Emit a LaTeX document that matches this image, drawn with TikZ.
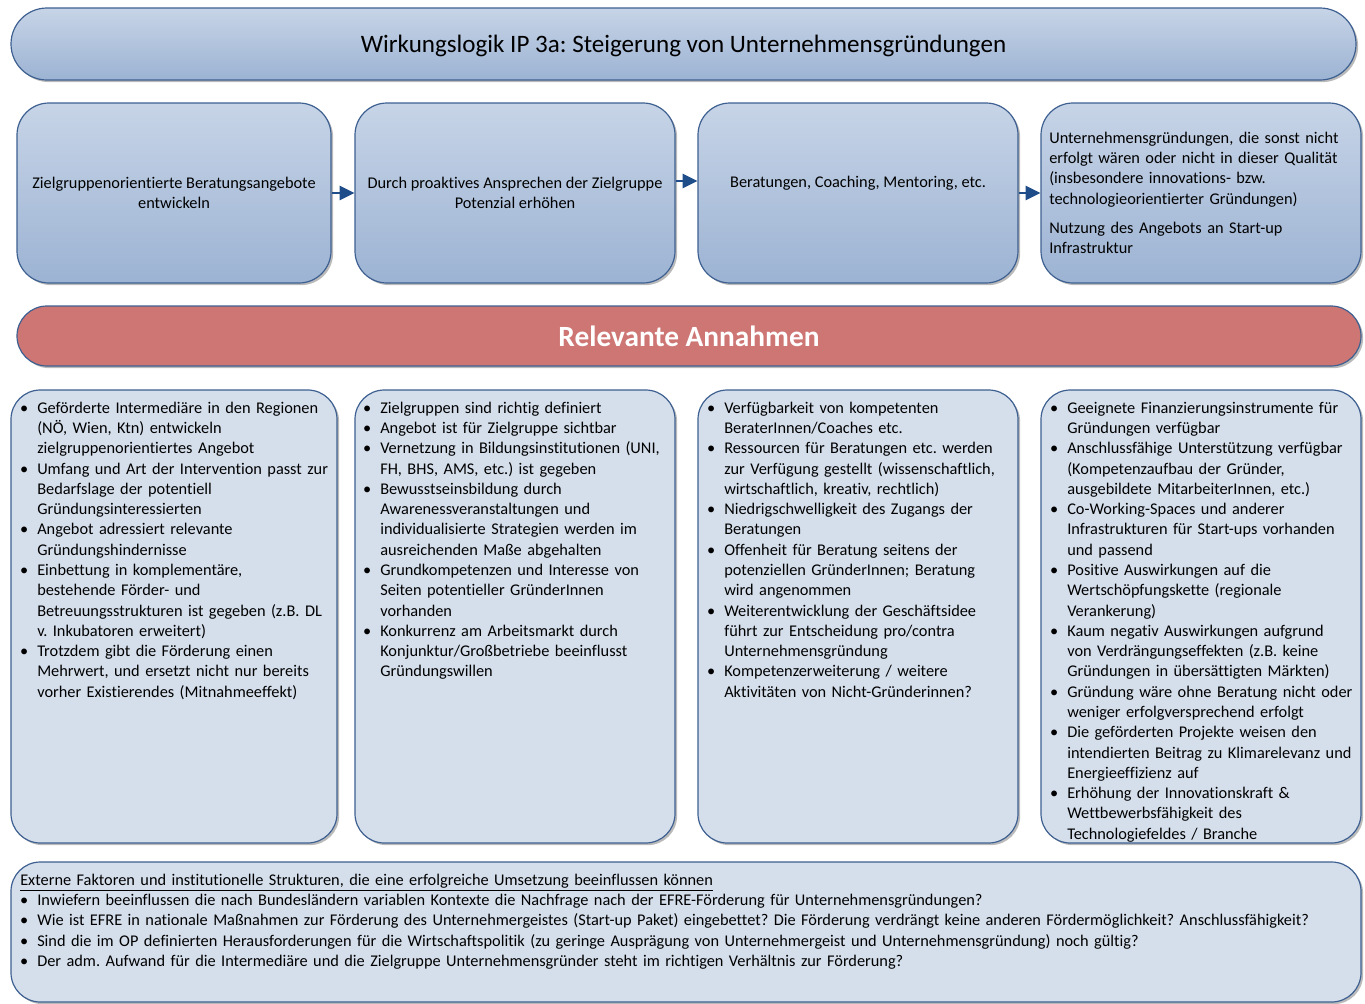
\documentclass[tikz,border=0pt]{standalone}
\usepackage{fontspec}
\setmainfont{Carlito}[Ligatures=NoCommon]
\usetikzlibrary{shadows,arrows.meta}
\frenchspacing
\definecolor{bdr}{RGB}{62,96,145}
\definecolor{gtop}{RGB}{199,212,231}
\definecolor{gbot}{RGB}{156,179,211}
\definecolor{afill}{RGB}{213,223,236}
\definecolor{redb}{RGB}{205,118,116}
\definecolor{arrc}{RGB}{31,77,137}
\newcommand\bodyfont{\fontsize{12.25pt}{15.21pt}\selectfont\frenchspacing}
\newcommand\fstrut{\rule{0pt}{8.5pt}}
\newcommand\bfirst{\noindent\llap{\makebox[19.5pt]{\textbullet}}}
\newcommand\bu{\par\noindent\llap{\makebox[19.5pt]{\textbullet}}}
\newcommand\bb{\par\noindent\hspace*{12.75pt}\llap{\makebox[19.5pt]{\textbullet}}}
\tikzset{
 shd/.style={drop shadow={shadow xshift=1.6pt,shadow yshift=-1.6pt,fill=black!60,opacity=0.45}},
 gbox/.style={draw=bdr, line width=0.9pt, rounded corners=24pt, top color=gtop, bottom color=gbot, shd, inner sep=0pt},
 abox/.style={draw=bdr, line width=0.9pt, rounded corners=22pt, fill=afill, shd, inner sep=0pt},
 rbox/.style={draw=bdr, line width=0.9pt, rounded corners=22.5pt, fill=redb, shd, inner sep=0pt},
 txt/.style={inner sep=0pt, font=\bodyfont},
 ltxt/.style={inner sep=0pt, font=\bodyfont, anchor=north west, text width=#1},
 arr/.style={draw=arrc, line width=1.5pt, -{Triangle[length=11pt,width=10.5pt]}},
}
\begin{document}
\begin{tikzpicture}[x=0.75pt,y=-0.75pt]
\useasboundingbox (0,0) rectangle (1365,1004);
% title
\node[gbox, rounded corners=27pt, minimum width=1008.75pt, minimum height=54pt] (title) at (683.5,44) {};
\node[inner sep=0pt, font=\fontsize{18.8pt}{22pt}\selectfont] (titletxt) at ([yshift=-1.2pt]title.center) {Wirkungslogik IP 3a: Steigerung von Unternehmensgründungen};
% top boxes
\node[gbox, minimum width=235.5pt, minimum height=135pt] (b1) at (174,193) {};
\node[gbox, minimum width=240pt, minimum height=135pt] (b2) at (515,193) {};
\node[gbox, minimum width=240pt, minimum height=135pt] (b3) at (858,193) {};
\node[gbox, minimum width=240pt, minimum height=135pt] (b4) at (1201,193) {};
\node[txt, align=center] (t1) at (b1.center) {Zielgruppenorientierte Beratungsangebote\\entwickeln};
\node[txt, align=center] (t2) at (b2.center) {Durch proaktives Ansprechen der Zielgruppe\\Potenzial erhöhen};
\node[txt] (t3) at ([yshift=7.5pt]b3.center) {Beratungen, Coaching, Mentoring, etc.};
\node[ltxt=235pt] (t4) at (1049,131.7) {\raggedright\fstrut Unternehmensgründungen, die sonst nicht\\erfolgt wären oder nicht in dieser Qualität\\(insbesondere innovations- bzw.\\technologieorientierter Gründungen)\\[6.5pt]Nutzung des Angebots an Start-up\\Infrastruktur};
\draw[arr] (b1.east) -- (b2.west);
\draw[arr] ([yshift=9pt]b2.east) -- ([yshift=9pt]b3.west);
\draw[arr] (b3.east) -- (b4.west);
% red bar
\node[rbox, minimum width=1008pt, minimum height=45pt] (red) at (689,336) {};
\node[inner sep=0pt, text=white, font=\bfseries\fontsize{22pt}{26pt}\selectfont] (redtxt) at (red.center) {Relevante Annahmen};
% assumption boxes
\node[abox, minimum width=244.5pt, minimum height=339.75pt] (a1) at (174,616.5) {};
\node[abox, minimum width=240pt, minimum height=339.75pt] (a2) at (515,616.5) {};
\node[abox, minimum width=240pt, minimum height=339.75pt] (a3) at (858,616.5) {};
\node[abox, minimum width=240pt, minimum height=339.75pt] (a4) at (1201,616.5) {};
\node[ltxt=245pt] (l1) at (37,401.7) {\raggedright\bfirst\fstrut Geförderte Intermediäre in den Regionen\\(NÖ, Wien, Ktn) entwickeln\\zielgruppenorientiertes Angebot
\bu Umfang und Art der Intervention passt zur\\Bedarfslage der potentiell\\Gründungsinteressierten
\bu Angebot adressiert relevante\\Gründungshindernisse
\bu Einbettung in komplementäre,\\bestehende Förder- und\\Betreuungsstrukturen ist gegeben (z.B. DL\\v. Inkubatoren erweitert)
\bu Trotzdem gibt die Förderung einen\\Mehrwert, und ersetzt nicht nur bereits\\vorher Existierendes (Mitnahmeeffekt)\par};
\node[ltxt=245pt] (l2) at (380,401.7) {\raggedright\bfirst\fstrut Zielgruppen sind richtig definiert
\bu Angebot ist für Zielgruppe sichtbar
\bu Vernetzung in Bildungsinstitutionen (UNI,\\FH, BHS, AMS, etc.) ist gegeben
\bu Bewusstseinsbildung durch\\Awarenessveranstaltungen und\\individualisierte Strategien werden im\\ausreichenden Maße abgehalten
\bu Grundkompetenzen und Interesse von\\Seiten potentieller GründerInnen\\vorhanden
\bu Konkurrenz am Arbeitsmarkt durch\\Konjunktur/Großbetriebe beeinflusst\\Gründungswillen\par};
\node[ltxt=245pt] (l3) at (724,401.7) {\raggedright\bfirst\fstrut Verfügbarkeit von kompetenten\\BeraterInnen/Coaches etc.
\bu Ressourcen für Beratungen etc. werden\\zur Verfügung gestellt (wissenschaftlich,\\wirtschaftlich, kreativ, rechtlich)
\bu Niedrigschwelligkeit des Zugangs der\\Beratungen
\bu Offenheit für Beratung seitens der\\potenziellen GründerInnen; Beratung\\wird angenommen
\bu Weiterentwicklung der Geschäftsidee\\führt zur Entscheidung pro/contra\\Unternehmensgründung
\bu Kompetenzerweiterung / weitere\\Aktivitäten von Nicht-Gründerinnen?\par};
\node[ltxt=245pt] (l4) at (1067,401.7) {\raggedright\bfirst\fstrut Geeignete Finanzierungsinstrumente für\\Gründungen verfügbar
\bu Anschlussfähige Unterstützung verfügbar\\(Kompetenzaufbau der Gründer,\\ausgebildete MitarbeiterInnen, etc.)
\bu Co-Working-Spaces und anderer\\Infrastrukturen für Start-ups vorhanden\\und passend
\bu Positive Auswirkungen auf die\\Wertschöpfungskette (regionale\\Verankerung)
\bu Kaum negativ Auswirkungen aufgrund\\von Verdrängungseffekten (z.B. keine\\Gründungen in übersättigten Märkten)
\bu Gründung wäre ohne Beratung nicht oder\\weniger erfolgversprechend erfolgt
\bu Die geförderten Projekte weisen den\\intendierten Beitrag zu Klimarelevanz und\\Energieeffizienz auf
\bu Erhöhung der Innovationskraft \&\\Wettbewerbsfähigkeit des\\Technologiefeldes / Branche\par};
% bottom box
\node[abox, minimum width=1012.5pt, minimum height=105pt] (ext) at (686,932) {};
\node[ltxt=1010pt] (exttxt) at (20,873.7) {\raggedright
\noindent\fstrut\underline{Externe Faktoren und institutionelle Strukturen, die eine erfolgreiche Umsetzung beeinflussen können}
\bb Inwiefern beeinflussen die nach Bundesländern variablen Kontexte die Nachfrage nach der EFRE-Förderung für Unternehmensgründungen?
\bb Wie ist EFRE in nationale Maßnahmen zur Förderung des Unternehmergeistes (Start-up Paket) eingebettet? Die Förderung verdrängt keine anderen Fördermöglichkeit? Anschlussfähigkeit?
\bb Sind die im OP definierten Herausforderungen für die Wirtschaftspolitik (zu geringe Ausprägung von Unternehmergeist und Unternehmensgründung) noch gültig?
\bb Der adm. Aufwand für die Intermediäre und die Zielgruppe Unternehmensgründer steht im richtigen Verhältnis zur Förderung?\par};
\end{tikzpicture}
\end{document}
